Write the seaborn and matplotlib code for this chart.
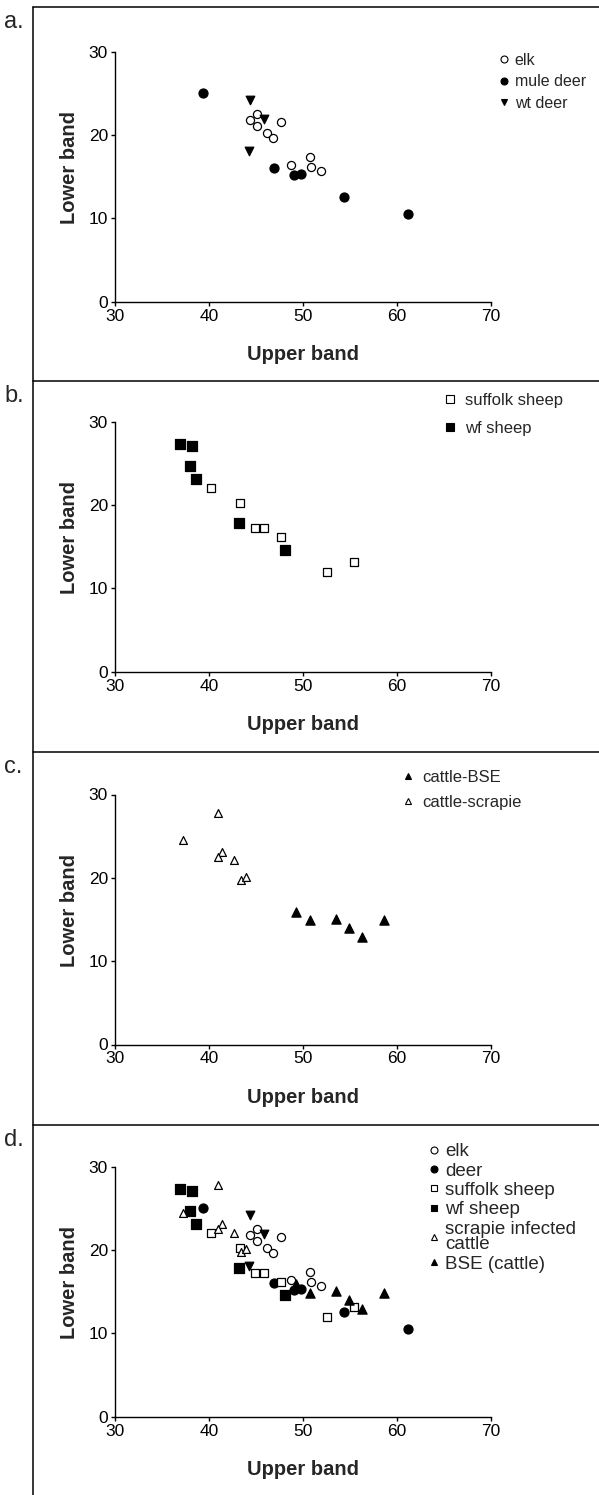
import numpy as np
import pandas as pd
import seaborn as sns
import matplotlib
matplotlib.use("Agg")
import matplotlib.pyplot as plt
from matplotlib.lines import Line2D

# ---------------- data ----------------
elk_x = [44.4, 45.1, 45.1, 46.2, 46.8, 47.7, 48.7, 50.7, 50.8, 51.9]
elk_y = [21.8, 22.5, 21.1, 20.3, 19.6, 21.6, 16.4, 17.4, 16.2, 15.7]
mule_x = [39.4, 46.9, 49.0, 49.8, 54.4, 61.2]
mule_y = [25.0, 16.0, 15.2, 15.3, 12.6, 10.5]
wt_x = [44.4, 45.8, 44.3]
wt_y = [24.2, 21.9, 18.1]
suf_x = [40.2, 43.3, 44.9, 45.8, 47.7, 52.6, 55.4]
suf_y = [22.1, 20.2, 17.2, 17.3, 16.2, 12.0, 13.2]
wf_x = [36.9, 38.2, 38.0, 38.6, 43.2, 48.1]
wf_y = [27.3, 27.1, 24.7, 23.1, 17.9, 14.6]
scr_x = [41.0, 37.2, 41.4, 41.0, 42.7, 43.4, 43.9]
scr_y = [27.8, 24.5, 23.1, 22.5, 22.1, 19.8, 20.1]
bse_x = [49.3, 50.7, 53.5, 54.9, 56.3, 58.6]
bse_y = [15.9, 14.9, 15.1, 14.0, 12.9, 14.9]

x_ticks = [30, 40, 50, 60, 70]
y_ticks = [0, 10, 20, 30]
panel_letters = ["a.", "b.", "c.", "d."]
x_label = "Upper band"
y_label = "Lower band"

# ---------------- style ----------------
sns.set_style("ticks")
plt.rcParams["font.family"] = ["Liberation Sans", "DejaVu Sans"]

W, H = 599, 1495
fig = plt.figure(figsize=(W / 100, H / 100), dpi=100)

# marker styles: (marker, facecolor, size)
STY = {
    "elk": ("o", "white", 34),
    "mule": ("o", "black", 42),
    "wt": ("v", "black", 38),
    "suf": ("s", "white", 34),
    "wf": ("s", "black", 44),
    "scr": ("^", "white", 32),
    "bse": ("^", "black", 44),
}

def scatter(ax, xs, ys, key):
    m, fc, s = STY[key]
    df = pd.DataFrame({"x": xs, "y": ys})
    sns.scatterplot(data=df, x="x", y="y", ax=ax, marker=m, s=s,
                    color=fc, edgecolor="black", linewidth=0.9, legend=False,
                    zorder=3)

def proxy(key, ms=5):
    m, fc, s = STY[key]
    return Line2D([], [], linestyle="none", marker=m, markersize=ms,
                  markerfacecolor=fc, markeredgecolor="black", markeredgewidth=0.8)

def make_ax(top30, bottom0):
    ax = fig.add_axes([115 / W, 1 - bottom0 / H, 376 / W, (bottom0 - top30) / H])
    ax.set_xlim(30, 70)
    ax.set_ylim(0, 30)
    ax.set_xticks(x_ticks)
    ax.set_yticks(y_ticks)
    for sp in ["top", "right"]:
        ax.spines[sp].set_visible(False)
    for sp in ["left", "bottom"]:
        ax.spines[sp].set_linewidth(1.0)
        ax.spines[sp].set_color("black")
    ax.tick_params(direction="out", length=3, width=1.0, labelsize=12.5,
                   colors="black", pad=2)
    ax.set_xlabel(x_label, fontsize=14.5, fontweight="bold")
    ax.set_ylabel(y_label, fontsize=14.5, fontweight="bold")
    ax.xaxis.set_label_coords(0.5, -0.175)
    ax.yaxis.set_label_coords(-0.095, 0.537)
    return ax

panel_tops = [7, 380.5, 751.7, 1125]
axis_rows = [(51.7, 301.7), (421.7, 671.7), (794.5, 1044.5), (1166.7, 1416.7)]

axes = [make_ax(*r) for r in axis_rows]
axa, axb, axc, axd = axes

# panel a
scatter(axa, elk_x, elk_y, "elk")
scatter(axa, mule_x, mule_y, "mule")
scatter(axa, wt_x, wt_y, "wt")
axa.legend([proxy("elk"), proxy("mule"), proxy("wt")], ["elk", "mule deer", "wt deer"],
           loc="upper left", bbox_to_anchor=(498 / W, 1 - 53 / H),
           bbox_transform=fig.transFigure, frameon=False, fontsize=11.5,
           handlelength=0.7, handletextpad=0.35, labelspacing=0.4,
           borderpad=0, borderaxespad=0)

# panel b
scatter(axb, suf_x, suf_y, "suf")
scatter(axb, wf_x, wf_y, "wf")
axb.legend([proxy("suf", 6), proxy("wf", 6)], ["suffolk sheep", "wf sheep"],
           loc="upper left", bbox_to_anchor=(443 / W, 1 - 393 / H),
           bbox_transform=fig.transFigure, frameon=False, fontsize=12,
           handlelength=0.8, handletextpad=0.5, labelspacing=0.75,
           borderpad=0, borderaxespad=0)

# panel c
scatter(axc, bse_x, bse_y, "bse")
scatter(axc, scr_x, scr_y, "scr")
axc.legend([proxy("bse"), proxy("scr")], ["cattle-BSE", "cattle-scrapie"],
           loc="upper left", bbox_to_anchor=(402 / W, 1 - 770 / H),
           bbox_transform=fig.transFigure, frameon=False, fontsize=12,
           handlelength=0.7, handletextpad=0.5, labelspacing=0.6,
           borderpad=0, borderaxespad=0)

# panel d (combined)
scatter(axd, elk_x, elk_y, "elk")
scatter(axd, mule_x, mule_y, "mule")
scatter(axd, wt_x, wt_y, "wt")
scatter(axd, suf_x, suf_y, "suf")
scatter(axd, wf_x, wf_y, "wf")
scatter(axd, scr_x, scr_y, "scr")
scatter(axd, bse_x, bse_y, "bse")
legd = axd.legend([proxy("elk"), proxy("mule"), proxy("suf"), proxy("wf"),
                   proxy("scr"), proxy("bse")],
                  ["elk", "deer", "suffolk sheep", "wf sheep",
                   "scrapie infected\ncattle", "BSE (cattle)"],
                  loc="upper left", bbox_to_anchor=(428 / W, 1 - 1143 / H),
                  bbox_transform=fig.transFigure, frameon=False, fontsize=13.5,
                  handlelength=0.6, handletextpad=0.3, labelspacing=0.12,
                  borderpad=0, borderaxespad=0)
for t in legd.get_texts():
    t.set_linespacing(0.9)

# frame lines (scanned figure border)
fig.add_artist(Line2D([33 / W, 33 / W], [0, 1 - 7 / H], transform=fig.transFigure,
                      color="black", linewidth=1.1))
for top in panel_tops:
    fig.add_artist(Line2D([33 / W, 1.0], [1 - top / H, 1 - top / H],
                          transform=fig.transFigure, color="black", linewidth=1.1))

for top, letter in zip(panel_tops, panel_letters):
    fig.text(4 / W, 1 - (top + 15) / H, letter, fontsize=17, ha="left", va="center")

fig.savefig("out.png", dpi=100)
